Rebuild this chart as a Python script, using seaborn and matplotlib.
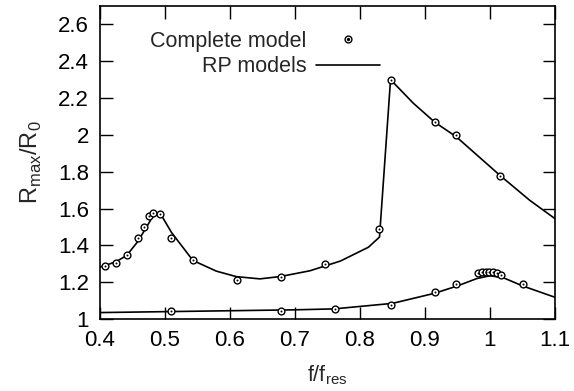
import matplotlib
matplotlib.use("Agg")
import matplotlib.pyplot as plt
import seaborn as sns
import pandas as pd
from matplotlib.lines import Line2D
from matplotlib.legend_handler import HandlerTuple

# complete model points (upper branch)
up_f = [0.408, 0.424, 0.441, 0.458, 0.467, 0.475, 0.482, 0.493, 0.509, 0.543,
        0.611, 0.678, 0.746, 0.830, 0.847, 0.915, 0.948, 1.016]
up_r = [1.286, 1.306, 1.349, 1.438, 1.500, 1.560, 1.576, 1.569, 1.440, 1.318,
        1.213, 1.229, 1.300, 1.487, 2.299, 2.069, 1.999, 1.778]

# complete model points (lower branch)
lo_f = [0.509, 0.678, 0.762, 0.847, 0.915, 0.948, 0.982, 0.988, 0.994, 0.999,
        1.005, 1.011, 1.017, 1.051]
lo_r = [1.042, 1.046, 1.055, 1.075, 1.146, 1.189, 1.250, 1.254, 1.254, 1.254,
        1.254, 1.250, 1.240, 1.189]

# RP model curves
rp_up_f = [0.400, 0.424, 0.441, 0.458, 0.470, 0.480, 0.486, 0.495, 0.510, 0.543,
           0.579, 0.610, 0.646, 0.678, 0.723, 0.770, 0.813, 0.830, 0.847, 0.882,
           0.915, 0.948, 1.016, 1.061, 1.100]
rp_up_r = [1.282, 1.310, 1.345, 1.420, 1.490, 1.550, 1.575, 1.560, 1.470, 1.318,
           1.260, 1.230, 1.218, 1.231, 1.262, 1.315, 1.390, 1.445, 2.300, 2.172,
           2.069, 1.990, 1.778, 1.645, 1.545]
rp_lo_f = [0.400, 0.500, 0.600, 0.700, 0.760, 0.850, 0.915, 0.950, 0.980, 1.000,
           1.020, 1.050, 1.100]
rp_lo_r = [1.035, 1.040, 1.045, 1.050, 1.055, 1.085, 1.140, 1.180, 1.220, 1.235,
           1.225, 1.180, 1.118]

sns.set_style("ticks")
plt.rcParams["font.family"] = ["Liberation Sans", "DejaVu Sans"]

fig = plt.figure(figsize=(5.74, 3.91), dpi=100)
ax = fig.add_axes([0.1742, 0.1841, 0.7927, 0.8006])

sns.lineplot(x=rp_up_f, y=rp_up_r, color="black", lw=1.2, sort=False, ax=ax)
sns.lineplot(x=rp_lo_f, y=rp_lo_r, color="black", lw=1.2, sort=False, ax=ax)

pts = pd.DataFrame({"f": up_f + lo_f, "r": up_r + lo_r})
sns.scatterplot(data=pts, x="f", y="r", marker="o", s=24, facecolor="white",
                edgecolor="black", linewidth=1.0, ax=ax, zorder=3)
sns.scatterplot(data=pts, x="f", y="r", marker="o", s=2, color="black",
                linewidth=0, ax=ax, zorder=4)

ax.set_xlim(0.4, 1.1)
ax.set_ylim(1.0, 2.7)
ax.set_xticks([0.4, 0.5, 0.6, 0.7, 0.8, 0.9, 1.0, 1.1])
ax.set_xticklabels(["0.4", "0.5", "0.6", "0.7", "0.8", "0.9", "1", "1.1"])
ax.set_yticks([1, 1.2, 1.4, 1.6, 1.8, 2, 2.2, 2.4, 2.6])
ax.set_yticklabels(["1", "1.2", "1.4", "1.6", "1.8", "2", "2.2", "2.4", "2.6"])
ax.tick_params(direction="in", length=9, width=1.0, top=True, right=True,
               labelsize=16, pad=8, colors="black")
for s in ax.spines.values():
    s.set_linewidth(1.2)
    s.set_color("black")

ax.set_xlabel(r"f/f$_\mathregular{res}$", fontsize=15.5, labelpad=9)
ax.set_ylabel(r"R$_\mathregular{max}$/R$_\mathregular{0}$", fontsize=17, labelpad=10)

h_pt = (Line2D([], [], ls="none", marker="o", ms=4.9, mfc="white", mec="black", mew=1.0),
        Line2D([], [], ls="none", marker="o", ms=1.4, mfc="black", mec="black"))
h_ln = Line2D([], [], color="black", lw=1.2)
ax.legend([h_pt, h_ln], ["Complete model", "RP models"],
          handler_map={tuple: HandlerTuple(ndivide=1, pad=0)},
          loc="upper right", bbox_to_anchor=(0.615, 0.92), frameon=False,
          borderpad=0, borderaxespad=0,
          markerfirst=False, fontsize=15.5, handlelength=2.95, handletextpad=0.45,
          labelspacing=0.2)

fig.savefig("out.png", dpi=100)
